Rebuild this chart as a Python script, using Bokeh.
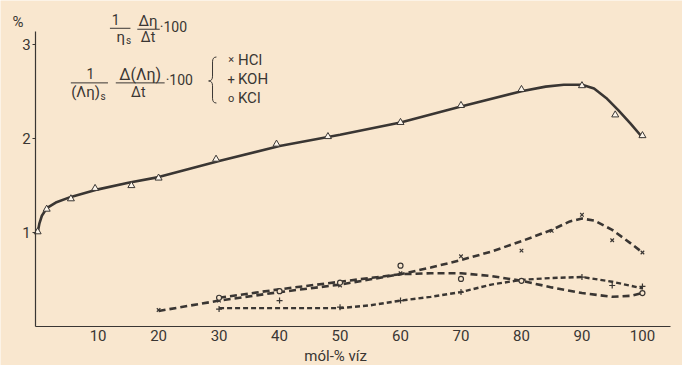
from bokeh.plotting import figure
from bokeh.models import Range1d, FixedTicker, Label
from bokeh.embed import file_html
from bokeh.resources import INLINE

# ---------------- data ----------------
x_ticks = [10, 20, 30, 40, 50, 60, 70, 80, 90, 100]
y_ticks = [1, 2, 3]

# viscosity of the pure mixture (triangles) and its drawn curve
tri_x = [0, 1.5, 5.5, 9.5, 15.5, 20, 29.5, 39.5, 48, 60, 70, 80, 90, 95.5, 100]
tri_y = [1.01, 1.25, 1.36, 1.47, 1.50, 1.58, 1.78, 1.94, 2.02, 2.17, 2.35, 2.52, 2.56, 2.25, 2.03]
main_curve_x = [0, 0.3, 0.7, 1.5, 3, 5.5, 10, 15, 20, 30, 40, 50, 60, 70, 80, 84, 87, 90, 92, 94, 96, 98, 100]
main_curve_y = [1.0, 1.1, 1.18, 1.26, 1.32, 1.38, 1.46, 1.53, 1.59, 1.76, 1.92, 2.04, 2.17, 2.34, 2.50,
                2.55, 2.57, 2.57, 2.53, 2.43, 2.30, 2.16, 2.01]

# HCl (x markers)
hcl_x = [20, 30, 40, 50, 60, 70, 80, 85, 90, 95, 100]
hcl_y = [0.18, 0.28, 0.37, 0.44, 0.57, 0.75, 0.81, 1.02, 1.19, 0.92, 0.79]
hcl_curve_x = [20, 30, 40, 50, 60, 65, 70, 75, 80, 85, 88, 90, 92, 95, 98, 100]
hcl_curve_y = [0.17, 0.28, 0.37, 0.45, 0.56, 0.63, 0.71, 0.80, 0.91, 1.03, 1.12, 1.15, 1.13, 1.03, 0.89, 0.79]

# KOH (+ markers)
koh_x = [30, 40, 50, 60, 70, 90, 95, 100]
koh_y = [0.19, 0.28, 0.21, 0.28, 0.37, 0.53, 0.44, 0.43]
koh_curve_x = [30, 40, 50, 55, 60, 65, 70, 75, 80, 85, 90, 95, 100]
koh_curve_y = [0.20, 0.20, 0.20, 0.23, 0.28, 0.32, 0.37, 0.45, 0.50, 0.52, 0.53, 0.48, 0.41]

# KCl (o markers)
kcl_x = [30, 40, 50, 60, 70, 80, 100]
kcl_y = [0.31, 0.38, 0.47, 0.65, 0.51, 0.49, 0.36]
kcl_curve_x = [30, 40, 50, 60, 65, 70, 75, 80, 85, 90, 95, 98, 100]
kcl_curve_y = [0.31, 0.40, 0.48, 0.56, 0.57, 0.57, 0.54, 0.49, 0.42, 0.36, 0.32, 0.33, 0.36]

legend_names = ["HCl", "KOH", "KCl"]
legend_symbols = ["×", "+", "o"]

# ---------------- styling ----------------
BG = "#f9e7cf"
INK = "#3a3633"
FONT = "Roboto"

# page layout expressed in reference pixels (698 x 381 picture)
X0_PX, X_PER = 38.0, 6.19      # x = 0 position, pixels per x unit
Y0_PX, Y_PER = 340.8, 98.4     # y = 0 position, pixels per y unit
W, H = 682, 365


def X(px):
    return (px - X0_PX) / X_PER


def Y(py):
    return (Y0_PX - py) / Y_PER


XR = (X(0), X(698))
YR = (Y(381), Y(0))

p = figure(width=W, height=H, output_backend="svg", toolbar_location=None,
           x_range=Range1d(*XR), y_range=Range1d(*YR),
           min_border_left=0, min_border_right=0, min_border_top=0, min_border_bottom=0)
p.background_fill_color = BG
p.border_fill_color = BG
p.outline_line_color = None
p.grid.visible = False

p.xaxis.fixed_location = 0
p.yaxis.fixed_location = X(36)
p.xaxis.bounds = (X(36), X(686))
p.yaxis.bounds = (0, Y(32))
p.xaxis.ticker = FixedTicker(ticks=x_ticks)
p.yaxis.ticker = FixedTicker(ticks=y_ticks)
for ax in (p.xaxis, p.yaxis):
    ax.axis_line_color = INK
    ax.axis_line_width = 1.2
    ax.major_tick_line_color = INK
    ax.minor_tick_line_color = None
    ax.major_label_text_font = FONT
    ax.major_label_text_font_size = "15px"
    ax.major_label_text_color = INK
p.xaxis.major_tick_out = 0
p.xaxis.major_tick_in = 0
p.xaxis.major_label_standoff = 3
p.yaxis.major_tick_out = 3
p.yaxis.major_tick_in = 0
p.yaxis.major_label_standoff = 2

# main curve
p.line(main_curve_x, main_curve_y, line_color=INK, line_width=2.6)
p.scatter(tri_x, tri_y, marker="triangle", size=7, line_color=INK, line_width=1,
          fill_color="#fdf6ec")

# dashed curves
p.line(hcl_curve_x, hcl_curve_y, line_color=INK, line_width=2.6, line_dash="7 4")
p.line(koh_curve_x, koh_curve_y, line_color=INK, line_width=2.4, line_dash="5 3")
p.line(kcl_curve_x, kcl_curve_y, line_color=INK, line_width=2.6, line_dash="7 4")
p.scatter(hcl_x, hcl_y, marker="x", size=5, line_color=INK, line_width=1.2)
p.scatter(koh_x, koh_y, marker="cross", size=6, line_color=INK, line_width=1.2)
p.scatter(kcl_x, kcl_y, marker="circle", size=5, line_color=INK, line_width=1.2, fill_color=BG)


def lab(text, px, py, size=13, align="center"):
    p.add_layout(Label(x=X(px), y=Y(py), text=text, text_font=FONT, text_font_size=f"{size}px",
                       text_color=INK, text_align=align, text_baseline="middle"))


# axis texts
lab("%", 18, 22, 15)
lab("mól-% víz", 343, 371, 15)

# formula 1
lab("1", 118, 20, 14)
lab("η", 123, 38, 15)
lab("s", 131, 42, 10)
lab("Δη", 151, 21, 15)
lab("Δt", 151, 38, 14)
lab("·100", 163, 28, 14, "left")
# formula 2
lab("1", 92, 76, 14)
lab("(Λη)", 87, 96, 15)
lab("s", 105, 100, 10)
lab("Δ(Λη)", 143, 77, 16)
lab("Δt", 141, 95, 14)
lab("·100", 169, 83, 14, "left")

# fraction bars
p.segment(x0=[X(112), X(140), X(72), X(118)], y0=[Y(29), Y(30), Y(86), Y(86)],
          x1=[X(133), X(163), X(110), X(168)], y1=[Y(29), Y(30), Y(86), Y(86)],
          line_color=INK, line_width=1)

# brace
p.quadratic(x0=[X(221), X(217), X(213), X(217)], y0=[Y(59), Y(79), Y(84), Y(102)],
            x1=[X(217), X(213), X(217), X(221)], y1=[Y(64), Y(84), Y(89), Y(107)],
            cx=[X(217), X(217), X(217), X(217)], cy=[Y(59), Y(84), Y(84), Y(107)],
            line_color=INK, line_width=1)
p.segment(x0=[X(217), X(217)], y0=[Y(64), Y(89)], x1=[X(217), X(217)], y1=[Y(79), Y(102)],
          line_color=INK, line_width=1)

# legend entries
for i, (sym, name) in enumerate(zip(legend_symbols, legend_names)):
    py = 62 + 20 * i
    lab(sym, 236, py, 11 if sym != "+" else 13)
    lab(name, 243, py, 15, "left")

open("out.html", "w").write(file_html(p, INLINE))
